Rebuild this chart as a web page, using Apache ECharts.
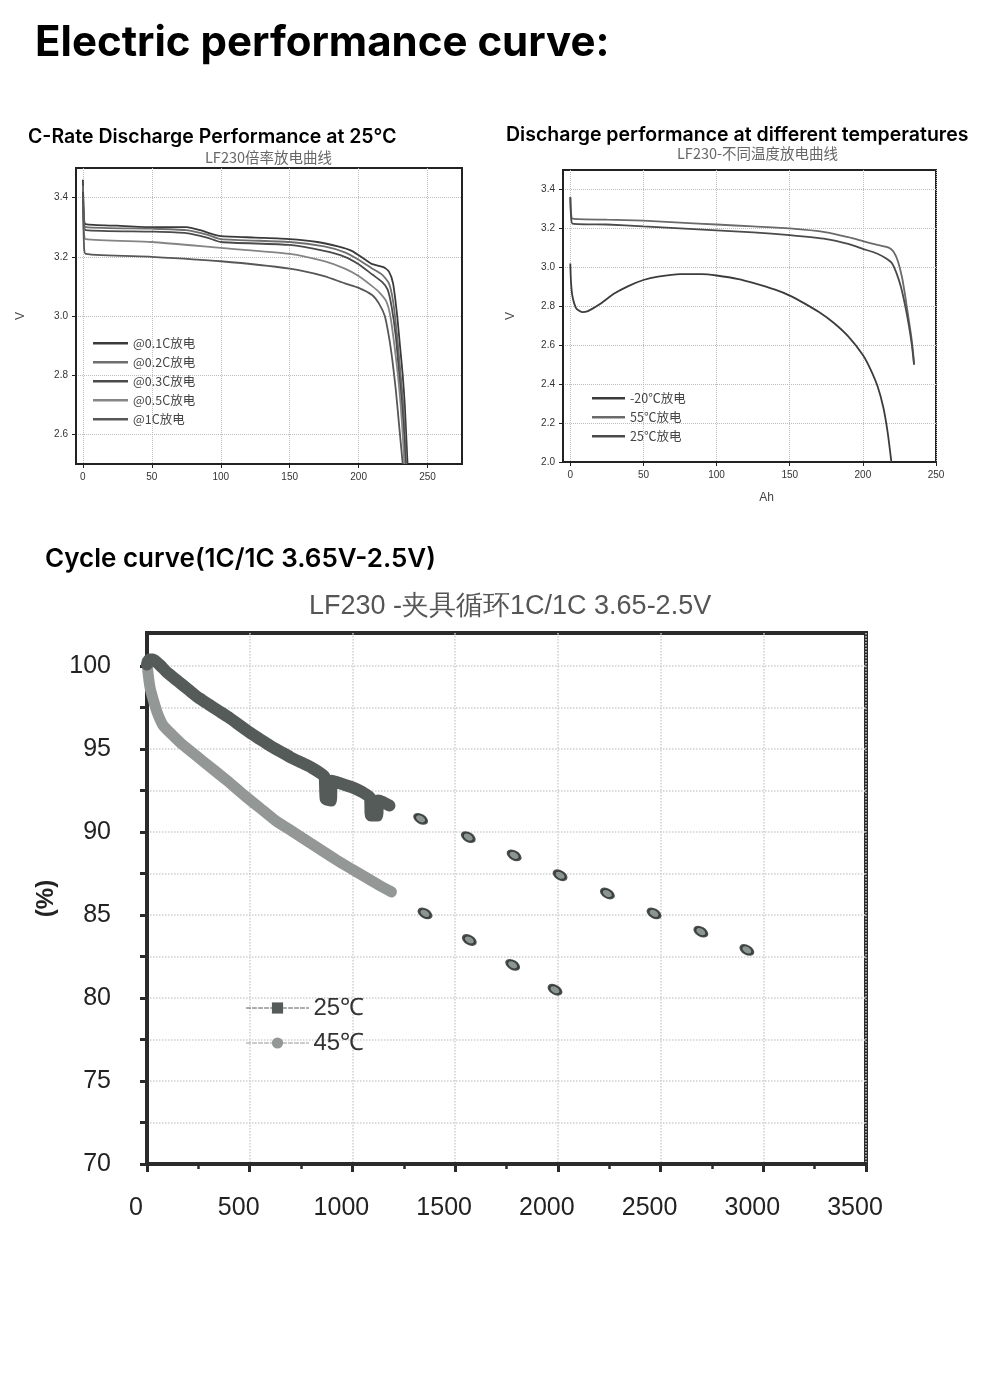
<!DOCTYPE html>
<html>
<head>
<meta charset="utf-8">
<script src="https://cdn.jsdelivr.net/npm/echarts@6/dist/echarts.min.js"></script>
<style>
  html, body { margin: 0; padding: 0; background: #fff; }
  #main { width: 1000px; height: 1377px; }
</style>
</head>
<body>
<div id="main"></div>
<script>
  // --- chart 1: LF230 C-rate discharge (Ah, V)
  var rateNames = ['@0.1C放电', '@0.2C放电', '@0.3C放电', '@0.5C放电', '@1C放电'];
  var rate01 = [[0,3.46],[0.8,3.33],[2,3.31],[25,3.305],[50,3.3],[75,3.3],[85,3.29],[95,3.275],[100,3.27],[125,3.265],[150,3.26],[170,3.25],[185,3.235],[195,3.22],[205,3.19],[210,3.175],[218,3.165],[222,3.15],[225,3.11],[228,3.0],[230,2.9],[232,2.8],[233.5,2.7],[234.5,2.6],[235.5,2.5]];
  var rate02 = [[0,3.44],[0.8,3.32],[2,3.3],[50,3.295],[75,3.29],[90,3.275],[100,3.26],[150,3.25],[175,3.235],[190,3.215],[200,3.19],[210,3.16],[217,3.14],[222,3.11],[225,3.05],[228,2.93],[230.5,2.8],[232.5,2.7],[233.5,2.6],[234.5,2.5]];
  var rate03 = [[0,3.42],[0.8,3.31],[2,3.29],[50,3.285],[75,3.28],[90,3.265],[100,3.25],[150,3.24],[175,3.22],[190,3.2],[200,3.175],[210,3.14],[217,3.115],[221,3.09],[224,3.03],[227,2.93],[229.5,2.8],[231.5,2.7],[233,2.6],[234,2.5]];
  var rate05 = [[0,3.38],[0.8,3.28],[2,3.26],[50,3.25],[100,3.23],[150,3.21],[175,3.185],[190,3.16],[200,3.135],[210,3.1],[215,3.08],[220,3.05],[223,3.0],[226,2.9],[228.5,2.8],[230.5,2.7],[232,2.6],[233.2,2.5]];
  var rate1 = [[0,3.4],[0.8,3.24],[2,3.21],[50,3.2],[100,3.185],[150,3.16],[175,3.135],[190,3.11],[200,3.095],[210,3.07],[215,3.04],[219,3.0],[222,2.93],[224.5,2.85],[227,2.75],[229,2.65],[231,2.55],[232,2.5]];
  var rateColors = ['#3a3a3a', '#6e6e6e', '#4a4a4a', '#858585', '#575757'];
  var ahTicks1 = [0, 50, 100, 150, 200, 250];
  var vTicks1 = [2.6, 2.8, 3.0, 3.2, 3.4];

  // --- chart 2: LF230 discharge at different temperatures
  var tempNames = ['-20℃放电', '55℃放电', '25℃放电'];
  var tempM20 = [[0,3.02],[0.5,2.92],[1.5,2.85],[4,2.79],[8,2.77],[12,2.775],[20,2.81],[30,2.865],[40,2.905],[50,2.935],[60,2.952],[75,2.965],[90,2.965],[100,2.958],[115,2.94],[125,2.92],[140,2.885],[150,2.855],[160,2.815],[170,2.77],[180,2.715],[190,2.645],[200,2.55],[205,2.48],[210,2.39],[214,2.28],[217,2.15],[219.5,2.0]];
  var temp55 = [[0,3.36],[0.5,3.28],[1.5,3.25],[25,3.245],[50,3.24],[75,3.23],[100,3.22],[125,3.21],[150,3.2],[175,3.18],[190,3.155],[200,3.135],[210,3.115],[218,3.1],[221,3.08],[224,3.03],[227,2.94],[229,2.85],[231,2.75],[233,2.65],[234.5,2.55],[235,2.5]];
  var temp25 = [[0,3.36],[0.5,3.26],[1.5,3.225],[25,3.22],[50,3.21],[75,3.2],[100,3.19],[125,3.18],[150,3.165],[175,3.145],[190,3.12],[200,3.095],[210,3.07],[216,3.045],[220,3.02],[223,2.97],[226,2.9],[229,2.8],[231.5,2.7],[233.5,2.6],[235,2.5]];
  var tempColors = ['#3c3c3c', '#6a6a6a', '#4a4a4a'];
  var ahTicks2 = [0, 50, 100, 150, 200, 250];
  var vTicks2 = [2.0, 2.2, 2.4, 2.6, 2.8, 3.0, 3.2, 3.4];

  // --- chart 3: cycle life 1C/1C 3.65-2.5V (cycles, %)
  var cycNames = ['25℃', '45℃'];
  var cyc25Line = [[0,100.1],[10,100.4],[30,100.4],[60,100.1],[100,99.6],[150,99.1],[200,98.6],[250,98.1],[300,97.7],[350,97.3],[400,96.9],[450,96.45],[500,96.0],[550,95.6],[600,95.2],[650,94.85],[700,94.5],[750,94.2],[800,93.9],[850,93.5],[865,93.3],[870,92.0],[895,91.9],[900,93.1],[950,92.9],[1000,92.7],[1050,92.4],[1085,92.1],[1090,91.0],[1120,91.0],[1125,91.9],[1150,91.8],[1180,91.6]];
  var cyc45Line = [[0,100.3],[5,99.6],[15,98.7],[30,98.0],[50,97.2],[80,96.4],[120,95.9],[170,95.3],[250,94.5],[325,93.75],[400,93.0],[475,92.2],[550,91.45],[625,90.7],[700,90.1],[775,89.5],[850,88.9],[925,88.3],[1000,87.75],[1075,87.2],[1130,86.8],[1190,86.4]];
  var cyc25Dots = [[1332,90.8],[1564,89.7],[1787,88.6],[2011,87.4],[2241,86.3],[2468,85.1],[2696,84.0],[2920,82.9]];
  var cyc45Dots = [[1353,85.1],[1569,83.5],[1780,82.0],[1986,80.5]];
  var pctLabels = [70, 75, 80, 85, 90, 95, 100];
  var pctLines = [70, 72.5, 75, 77.5, 80, 82.5, 85, 87.5, 90, 92.5, 95, 97.5, 100];

  var chart = echarts.init(document.getElementById('main'));

  var smallLabel = {fontSize: 10, color: '#333', fontFamily: 'Liberation Sans', margin: 8};
  var dotted = {show: true, lineStyle: {color: '#bdbdbd', type: 'dotted', width: 1}};

  function lineSeries(name, data, color, xi) {
    return {
      name: name, type: 'line', data: data, xAxisIndex: xi, yAxisIndex: xi,
      symbol: 'none', smooth: 0.2, color: color,
      lineStyle: {width: 1.8, color: color}, z: 3
    };
  }

  var series = [];
  [rate01, rate02, rate03, rate05, rate1].forEach(function (d, i) {
    series.push(lineSeries(rateNames[i], d, rateColors[i], 0));
  });
  [tempM20, temp55, temp25].forEach(function (d, i) {
    series.push(lineSeries(tempNames[i], d, tempColors[i], 1));
  });
  series.push({
    name: cycNames[0], type: 'line', data: cyc25Line, xAxisIndex: 2, yAxisIndex: 2,
    symbol: 'rect', symbolSize: 9, showSymbol: false, smooth: 0.15, color: '#545b58',
    lineStyle: {width: 12, color: '#545b58', cap: 'round', join: 'round'}, z: 4
  });
  series.push({
    name: cycNames[1], type: 'line', data: cyc45Line, xAxisIndex: 2, yAxisIndex: 2,
    symbol: 'circle', symbolSize: 9, showSymbol: false, smooth: 0.15, color: '#939795',
    lineStyle: {width: 11, color: '#939795', cap: 'round', join: 'round'}, z: 3
  });
  series.push({
    name: cycNames[0], type: 'scatter', data: cyc25Dots, xAxisIndex: 2, yAxisIndex: 2,
    symbol: 'circle', symbolSize: [13, 8], symbolRotate: -30,
    itemStyle: {color: '#6f7a75', borderColor: '#1f2623', borderWidth: 2.5}, z: 5
  });
  series.push({
    name: cycNames[1], type: 'scatter', data: cyc45Dots, xAxisIndex: 2, yAxisIndex: 2,
    symbol: 'circle', symbolSize: [13, 8], symbolRotate: -30,
    itemStyle: {color: '#6f7a75', borderColor: '#1f2623', borderWidth: 2.5}, z: 5
  });

  var option = {
    backgroundColor: '#fff',
    animation: false,
    title: [
      {text: 'Electric performance curve:', left: 35, top: 22, padding: 0,
        textStyle: {fontFamily: 'Inter', fontSize: 42, fontWeight: 'bold', color: '#000'}},
      {text: 'C-Rate Discharge Performance at 25℃', left: 28, top: 127, padding: 0,
        textStyle: {fontFamily: 'Inter', fontSize: 19.5, fontWeight: 600, color: '#000'}},
      {text: 'Discharge performance at different temperatures', left: 506, top: 125, padding: 0,
        textStyle: {fontFamily: 'Inter', fontSize: 19.5, fontWeight: 600, color: '#000'}},
      {text: 'Cycle curve(1C/1C 3.65V-2.5V)', left: 45, top: 546, padding: 0,
        textStyle: {fontFamily: 'Inter', fontSize: 26, fontWeight: 600, color: '#000'}},
      {text: 'LF230倍率放电曲线', left: 205, top: 150, padding: 0,
        textStyle: {fontFamily: 'Noto Sans CJK SC', fontSize: 14.5, fontWeight: 'normal', color: '#666'}},
      {text: 'LF230-不同温度放电曲线', left: 677, top: 146, padding: 0,
        textStyle: {fontFamily: 'Noto Sans CJK SC', fontSize: 14.5, fontWeight: 'normal', color: '#666'}},
      {text: 'LF230 -夹具循环1C/1C 3.65-2.5V', left: 309, top: 593, padding: 0,
        textStyle: {fontFamily: 'Liberation Sans', fontSize: 27, fontWeight: 'normal', color: '#555'}}
    ],
    legend: [
      {data: rateNames, orient: 'vertical', left: 93, top: 337, padding: 0,
        icon: 'rect', itemWidth: 35, itemHeight: 2.5, itemGap: 6.5,
        textStyle: {fontSize: 12.5, color: '#444', fontFamily: 'Noto Sans CJK SC'}},
      {data: tempNames, orient: 'vertical', left: 592, top: 392, padding: 0,
        icon: 'rect', itemWidth: 33, itemHeight: 2.5, itemGap: 6.5,
        textStyle: {fontSize: 12.5, color: '#444', fontFamily: 'Noto Sans CJK SC'}},
      {data: cycNames, orient: 'vertical', left: 246, top: 996, padding: 0,
        itemWidth: 62, itemHeight: 14, itemGap: 11,
        lineStyle: {width: 1, type: 'dashed'},
        textStyle: {fontSize: 24, color: '#333', fontFamily: 'Liberation Sans'}}
    ],
    grid: [
      {left: 76, top: 168, width: 386, height: 296, show: true, borderColor: '#222', borderWidth: 2},
      {left: 563, top: 170, width: 373, height: 292, show: true, borderColor: '#222', borderWidth: 2},
      {left: 147, top: 633, width: 719, height: 531, show: true, borderColor: '#2b2b2b', borderWidth: 4}
    ],
    xAxis: [
      {type: 'value', gridIndex: 0, min: -5, max: 275,
        axisLine: {onZero: false, lineStyle: {color: '#222', width: 2}},
        axisTick: {customValues: ahTicks1, length: 4, lineStyle: {color: '#222'}},
        axisLabel: Object.assign({customValues: ahTicks1}, smallLabel),
        splitLine: dotted},
      {type: 'value', gridIndex: 1, min: -5, max: 250,
        name: 'Ah', nameLocation: 'middle', nameGap: 30,
        nameTextStyle: {fontSize: 12, color: '#444', fontFamily: 'Liberation Sans', padding: [0, 0, 0, 34]},
        axisLine: {onZero: false, lineStyle: {color: '#222', width: 2}},
        axisTick: {customValues: ahTicks2, length: 4, lineStyle: {color: '#222'}},
        axisLabel: Object.assign({customValues: ahTicks2}, smallLabel),
        splitLine: dotted},
      {type: 'value', gridIndex: 2, min: 0, max: 3500, interval: 500,
        axisLine: {onZero: false, lineStyle: {color: '#2b2b2b', width: 4}},
        axisTick: {length: 8, lineStyle: {color: '#2b2b2b', width: 3}},
        minorTick: {show: true, splitNumber: 2, length: 5, lineStyle: {color: '#2b2b2b', width: 2.5}},
        axisLabel: {fontSize: 25, color: '#222', fontFamily: 'Liberation Sans', margin: 32, padding: [0, 22, 0, 0],
          formatter: function (v) { return String(v); }},
        splitLine: {show: true, lineStyle: {color: '#cfcfcf', type: 'dotted', width: 1.5}}}
    ],
    yAxis: [
      {type: 'value', gridIndex: 0, min: 2.5, max: 3.5,
        name: 'V', nameLocation: 'middle', nameGap: 49, nameRotate: 90,
        nameTextStyle: {fontSize: 12, color: '#444', fontFamily: 'Liberation Sans'},
        axisLine: {onZero: false, lineStyle: {color: '#222', width: 2}},
        axisTick: {customValues: vTicks1, length: 4, lineStyle: {color: '#222'}},
        axisLabel: Object.assign({customValues: vTicks1, formatter: function (v) { return v.toFixed(1); }}, smallLabel),
        splitLine: dotted},
      {type: 'value', gridIndex: 1, min: 2.0, max: 3.5,
        name: 'V', nameLocation: 'middle', nameGap: 46, nameRotate: 90,
        nameTextStyle: {fontSize: 12, color: '#444', fontFamily: 'Liberation Sans'},
        axisLine: {onZero: false, lineStyle: {color: '#222', width: 2}},
        axisTick: {customValues: vTicks2, length: 4, lineStyle: {color: '#222'}},
        axisLabel: Object.assign({customValues: vTicks2, formatter: function (v) { return v.toFixed(1); }}, smallLabel),
        splitLine: dotted},
      {type: 'value', gridIndex: 2, min: 70, max: 102,
        name: '(%)', nameLocation: 'middle', nameGap: 88, nameRotate: 90,
        nameTextStyle: {fontSize: 24, fontWeight: 'bold', color: '#222', fontFamily: 'Liberation Sans'},
        axisLine: {onZero: false, lineStyle: {color: '#2b2b2b', width: 4}},
        axisTick: {customValues: pctLines, length: 7, lineStyle: {color: '#2b2b2b', width: 3}},
        axisLabel: {customValues: pctLabels, fontSize: 25, color: '#222', fontFamily: 'Liberation Sans', margin: 36},
        splitLine: {show: true, lineStyle: {color: '#cfcfcf', type: 'dotted', width: 1.5}}}
    ],
    series: series
  };

  chart.setOption(option);
</script>
</body>
</html>
